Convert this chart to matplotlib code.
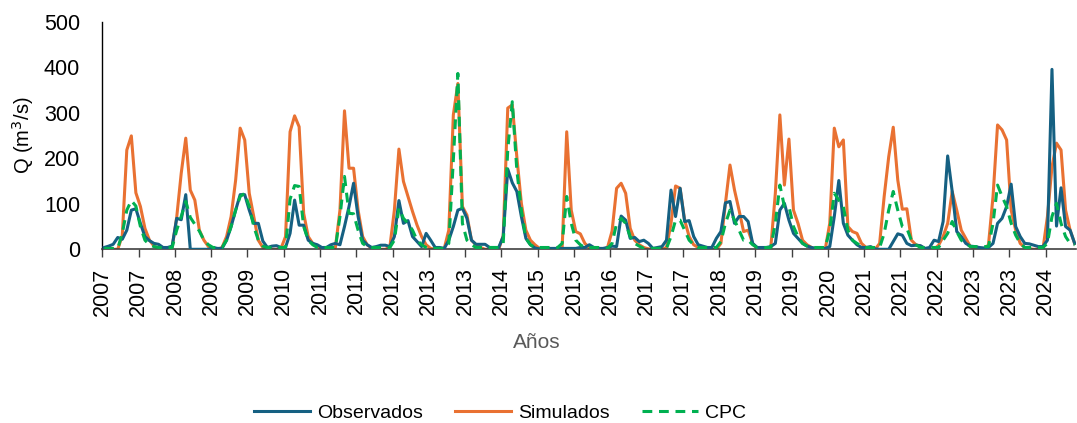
import numpy as np
import matplotlib
matplotlib.use("Agg")
import matplotlib.pyplot as plt

plt.rcParams['font.family'] = ['Liberation Sans', 'DejaVu Sans']

# Monthly series, Jan 2007 onward
observados = [
    4, 7, 11, 26, 22, 42, 86, 89, 57, 28, 19, 13,
    11, 4, 4, 7, 68, 65, 120, 0, 0, 0, 0, 0,
    4, 2, 2, 20, 50, 86, 120, 120, 86, 57, 57, 18,
    4, 7, 8, 4, 4, 35, 108, 53, 53, 20, 13, 10,
    4, 4, 10, 13, 10, 50, 94, 145, 72, 20, 10, 4,
    6, 9, 9, 6, 28, 107, 57, 63, 28, 17, 6, 35,
    20, 4, 4, 2, 20, 50, 86, 90, 68, 20, 11, 11,
    11, 4, 4, 4, 28, 176, 146, 127, 72, 24, 10, 3,
    1, 1, 2, 2, 2, 2, 2, 2, 2, 4, 4, 10,
    4, 2, 2, 4, 7, 6, 73, 64, 24, 26, 17, 20,
    13, 2, 4, 6, 20, 130, 72, 134, 61, 63, 28, 10,
    7, 4, 4, 24, 39, 102, 105, 57, 72, 72, 61, 13,
    4, 4, 4, 6, 13, 86, 101, 64, 35, 24, 13, 7,
    4, 2, 2, 2, 6, 72, 151, 57, 31, 20, 10, 4,
    4, 6, 1, 0, 0, 0, 17, 34, 31, 13, 8, 9,
    8, 2, 4, 20, 17, 61, 205, 127, 39, 28, 13, 7,
    6, 4, 3, 4, 13, 57, 68, 94, 143, 50, 28, 13,
    12, 9, 6, 6, 20, 395, 51, 135, 50, 42, 13,
]
simulados = [
    0, 0, 0, 0, 30, 218, 249, 124, 94, 46, 20, 7,
    2, 0, 0, 4, 70, 167, 244, 130, 108, 42, 20, 6,
    0, 0, 4, 28, 72, 152, 266, 240, 123, 72, 20, 4,
    0, 0, 0, 2, 28, 258, 293, 269, 79, 28, 13, 6,
    2, 0, 0, 4, 86, 304, 178, 178, 86, 28, 10, 2,
    0, 0, 0, 5, 86, 220, 149, 116, 83, 53, 28, 10,
    2, 0, 0, 2, 42, 295, 364, 94, 75, 20, 10, 4,
    0, 0, 0, 0, 30, 310, 317, 203, 101, 42, 20, 10,
    2, 0, 0, 0, 0, 4, 258, 86, 39, 34, 13, 4,
    0, 0, 0, 4, 40, 134, 145, 123, 46, 20, 10, 4,
    1, 0, 0, 0, 4, 57, 139, 134, 64, 28, 10, 4,
    0, 0, 0, 0, 13, 101, 185, 130, 86, 39, 42, 13,
    1, 0, 0, 4, 123, 295, 141, 242, 86, 57, 20, 10,
    4, 0, 0, 0, 57, 266, 225, 240, 50, 39, 35, 13,
    4, 0, 0, 13, 116, 203, 268, 152, 88, 89, 20, 10,
    7, 1, 0, 0, 9, 28, 57, 127, 86, 42, 24, 6,
    1, 0, 0, 10, 116, 273, 262, 240, 86, 42, 13, 4,
    1, 0, 0, 0, 72, 181, 233, 218, 86, 42, 13,
]
cpc = [
    2, 2, 2, 2, 35, 86, 107, 95, 50, 20, 10, 6,
    4, 4, 4, 4, 42, 72, 105, 70, 55, 40, 20, 10,
    4, 4, 4, 20, 50, 86, 116, 123, 94, 50, 20, 7,
    4, 4, 4, 4, 4, 110, 140, 138, 50, 20, 10, 4,
    4, 4, 4, 4, 72, 160, 79, 78, 42, 13, 6, 4,
    4, 4, 4, 4, 20, 90, 68, 57, 42, 20, 10, 4,
    2, 2, 2, 2, 13, 196, 386, 57, 20, 10, 4, 4,
    4, 4, 4, 4, 13, 218, 324, 174, 86, 24, 10, 4,
    4, 4, 4, 4, 4, 13, 116, 57, 20, 10, 4, 4,
    4, 4, 2, 2, 13, 57, 68, 57, 28, 13, 7, 2,
    2, 2, 2, 2, 2, 28, 64, 64, 42, 20, 10, 4,
    4, 4, 4, 4, 17, 57, 86, 64, 42, 20, 20, 10,
    4, 4, 4, 4, 57, 141, 94, 94, 50, 28, 13, 7,
    4, 4, 4, 4, 42, 123, 108, 94, 42, 20, 13, 7,
    4, 4, 4, 4, 35, 86, 127, 86, 50, 46, 20, 10,
    4, 4, 4, 4, 4, 20, 35, 61, 39, 20, 13, 6,
    6, 6, 6, 6, 57, 141, 116, 94, 57, 31, 13, 4,
    4, 4, 4, 4, 13, 72, 101, 57, 28, 13, 10,
]
tick_labels = ["2007", "2007", "2008", "2009", "2009", "2010", "2011", "2011",
               "2012", "2013", "2013", "2014", "2015", "2015", "2016", "2017",
               "2017", "2018", "2019", "2019", "2020", "2021", "2021", "2022",
               "2023", "2023", "2024"]
series_names = ["Observados", "Simulados", "CPC"]

n = len(observados)
x = np.arange(n) + 0.4          # mid-month positions on a month axis
tick_pos = np.arange(len(tick_labels)) * 8

fig = plt.figure(figsize=(10.77, 4.23), dpi=100)
ax = fig.add_axes([0.095, 0.4106, 0.9045, 0.5385])

c_obs, c_sim, c_cpc = "#156082", "#E97132", "#00B050"
ax.plot(x, observados, color=c_obs, lw=2.2, label=series_names[0], zorder=3)
ax.plot(x, simulados, color=c_sim, lw=2.2, label=series_names[1], zorder=2)
ax.plot(x, cpc, color=c_cpc, lw=2.2, ls=(0, (3.2, 2.2)), label=series_names[2], zorder=4)

ax.set_xlim(0, 214.8)
ax.set_ylim(0, 500)
ax.set_yticks([0, 100, 200, 300, 400, 500])
ax.tick_params(axis='y', length=0, pad=16, labelsize=15.5)
ax.set_xticks(tick_pos)
ax.set_xticklabels(tick_labels, rotation=90)
ax.tick_params(axis='x', length=6, width=1, color="#404040", pad=7, labelsize=15.5)

for s in ("top", "right"):
    ax.spines[s].set_visible(False)
ax.spines["left"].set_color("black")
ax.spines["left"].set_linewidth(1.0)
ax.spines["bottom"].set_color("#404040")
ax.spines["bottom"].set_linewidth(1.2)

ax.set_ylabel("Q (m$^3$/s)", fontsize=14.5, labelpad=6)
fig.text(0.4986, 1 - 342 / 423, "Años", color="#595959", fontsize=15,
         ha="center", va="center")

fig.legend(loc="center", bbox_to_anchor=(500 / 1077, 1 - 413 / 423), ncol=3,
           frameon=False, fontsize=14, handlelength=2.9, handletextpad=0.35,
           columnspacing=1.65)

fig.savefig("out.png", dpi=100)
